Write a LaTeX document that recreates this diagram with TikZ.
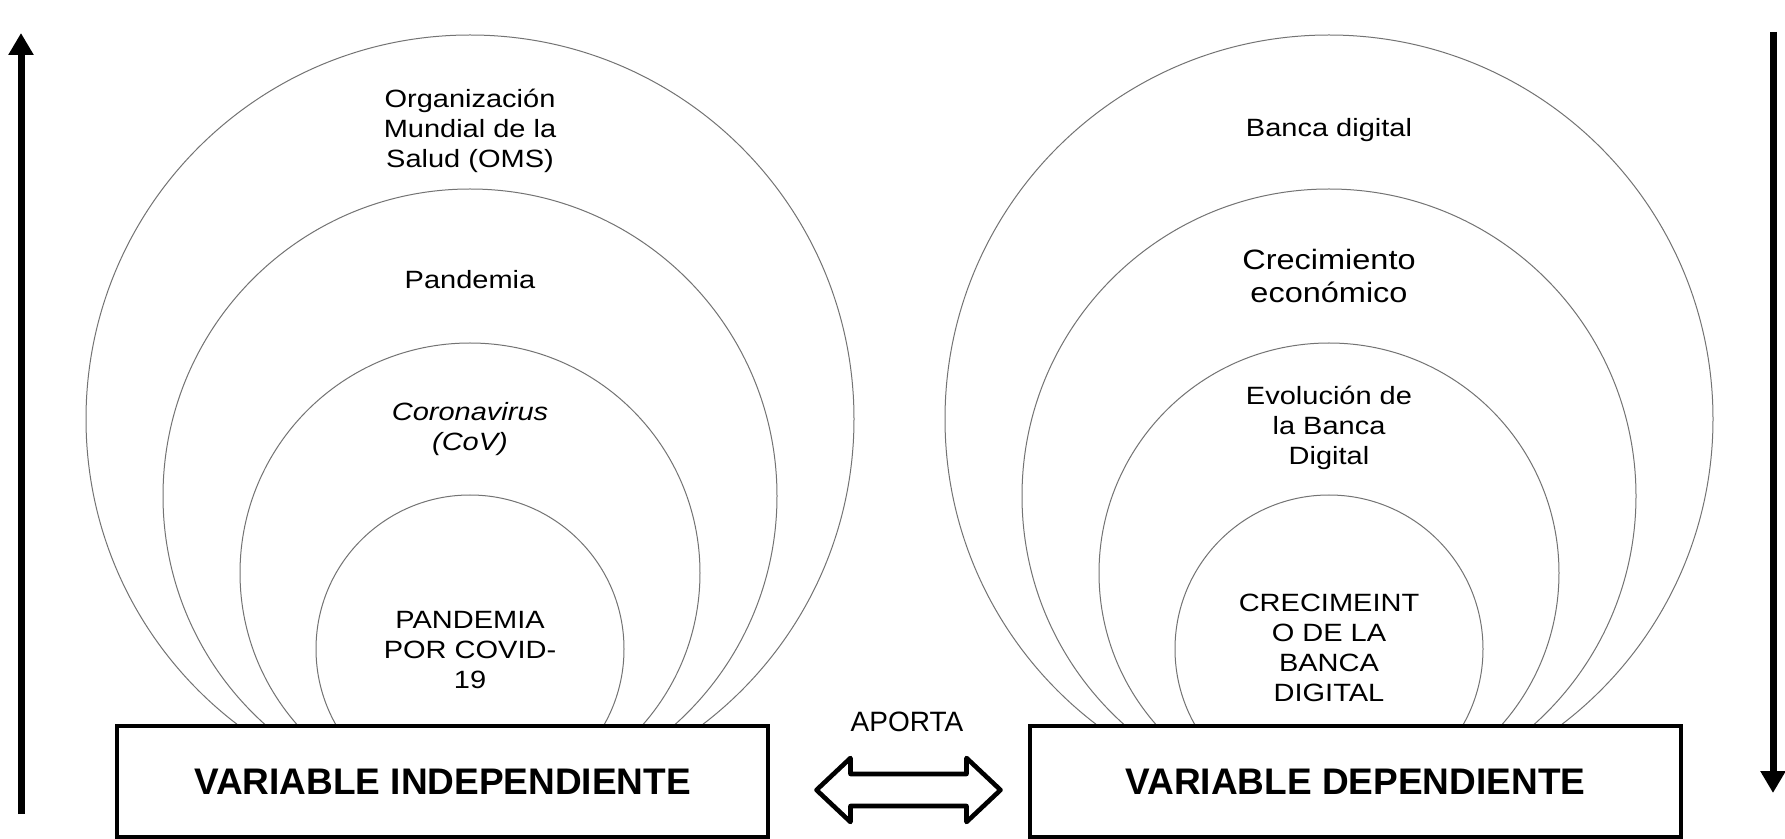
\documentclass[tikz,border=0pt]{standalone}
\usepackage{fontspec}
\setmainfont{Liberation Sans}
\newfontfamily\ringfont{Liberation Sans}[FakeStretch=1.16]
\usetikzlibrary{arrows.meta}

\tikzset{
  ring/.style={draw=black!55, line width=0.5pt, fill=white},
  ringtext/.style={align=center, font=\ringfont\fontsize{12.5}{15}\selectfont, inner sep=0pt},
  varbox/.style={draw, line width=2pt, fill=white, minimum width=325.5pt, minimum height=55.5pt,
    font=\bfseries\fontsize{18.5}{22}\selectfont},
  axisarrow/.style={line width=3.5pt, -{Triangle[length=11pt, width=12pt]}},
}

\begin{document}
\begin{tikzpicture}[x=0.5pt, y=-0.5pt]
\useasboundingbox (0,0) rectangle (1785,839);

% Draw the rings of both variables
\foreach \r in {384,307,230,154} {
  \draw[ring] (470,{803-\r}) circle (\r);
  \draw[ring] (1329,{803-\r}) circle (\r);
}

% Texts inside the rings
\node[ringtext] (oms) at (470,131) {Organización\\Mundial de la\\Salud (OMS)};
\node[ringtext] (pandemia) at (470,280) {Pandemia};
\node[ringtext] (coronavirus) at (470,429) {\itshape Coronavirus\\\itshape (CoV)};
\node[ringtext] (covid) at (470,650) {PANDEMIA\\POR COVID-\\19};
\node[ringtext] (banca) at (1329,130) {Banca digital};
\node[ringtext, font=\ringfont\fontsize{14}{16.5}\selectfont] (crecimiento) at (1329,276) {Crecimiento\\económico};
\node[ringtext] (evolucion) at (1329,428) {Evolución de\\la Banca\\Digital};
\node[ringtext] (crecbanca) at (1329,648) {CRECIMEINT\\O DE LA\\BANCA\\DIGITAL};

% Variable boxes
\node[varbox] (indep) at (442.5,781.5) {VARIABLE INDEPENDIENTE};
\node[varbox] (dep) at (1355.5,781.5) {VARIABLE DEPENDIENTE};

% Double arrow between the boxes
\coordinate (aporta) at (908.5,790);
\draw[line width=2.3pt, line join=round, shift={(aporta)}]
  (-92,0) -- (-58,-32) -- (-58,-16) -- (58,-16) -- (58,-32) -- (92,0)
  -- (58,32) -- (58,16) -- (-58,16) -- (-58,32) -- cycle;
\node[font=\fontsize{14}{16}\selectfont] (aportalabel) at (907,722) {APORTA};

% Side arrows
\coordinate (upfoot) at (21,814);
\coordinate (uptip) at (21,33);
\draw[axisarrow] (upfoot) -- (uptip);
\coordinate (downtop) at (1773,32);
\coordinate (downtip) at (1773,793);
\draw[axisarrow] (downtop) -- (downtip);
\end{tikzpicture}
\end{document}
